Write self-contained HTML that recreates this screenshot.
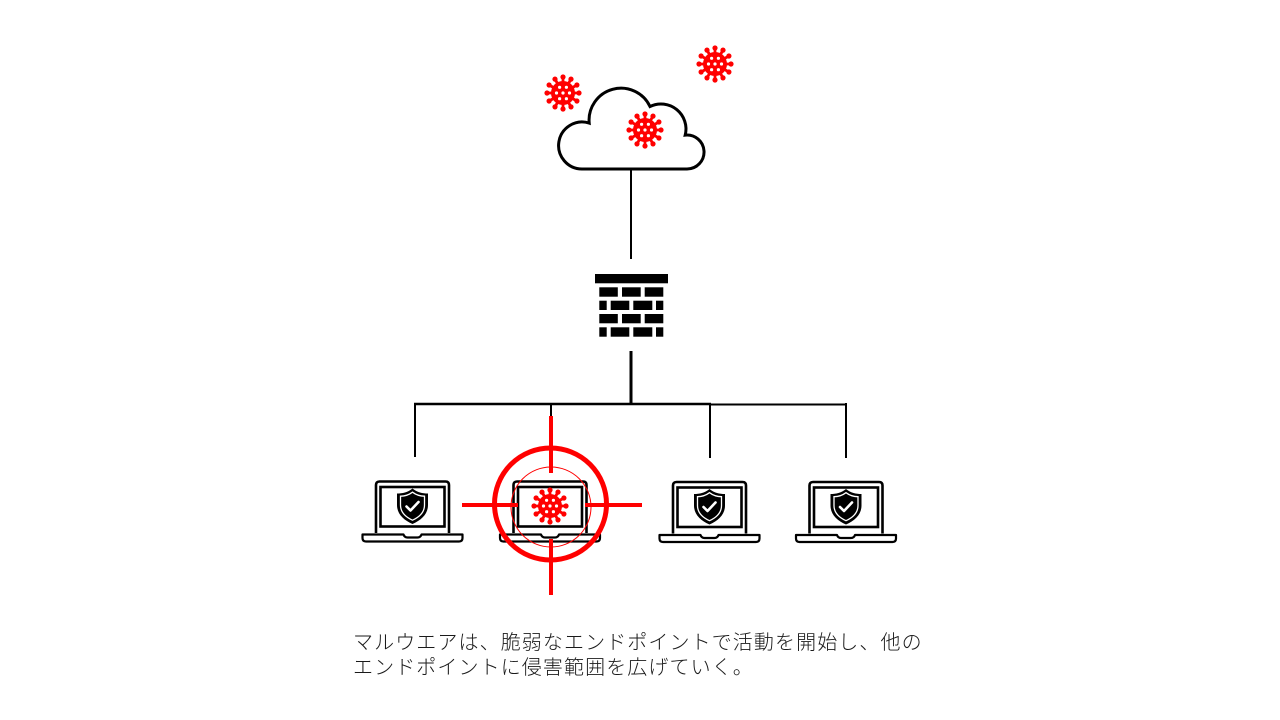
<!DOCTYPE html>
<html lang="ja">
<head>
<meta charset="utf-8">
<style>
  html,body{margin:0;padding:0;background:#fff;}
  #wrap{position:relative;width:1280px;height:720px;overflow:hidden;background:#fff;}
  svg{position:absolute;left:0;top:0;}
  .cap{position:absolute;left:353px;top:631px;font-family:"Liberation Sans","Noto Sans CJK JP",sans-serif;font-size:20px;font-weight:300;line-height:24.5px;letter-spacing:1.1px;color:#1a1a1a;white-space:nowrap;}
</style>
</head>
<body>
<div id="wrap">
<svg width="1280" height="720" viewBox="0 0 1280 720" xmlns="http://www.w3.org/2000/svg">
  <defs>
    <g id="virus">
      <g stroke="#ff0000" stroke-width="2.8" fill="#ff0000">
        <line x1="0" y1="0" x2="0" y2="-15"/>
        <line x1="0" y1="0" x2="7.5" y2="-13"/>
        <line x1="0" y1="0" x2="13" y2="-7.5"/>
        <line x1="0" y1="0" x2="15" y2="0"/>
        <line x1="0" y1="0" x2="13" y2="7.5"/>
        <line x1="0" y1="0" x2="7.5" y2="13"/>
        <line x1="0" y1="0" x2="0" y2="15"/>
        <line x1="0" y1="0" x2="-7.5" y2="13"/>
        <line x1="0" y1="0" x2="-13" y2="7.5"/>
        <line x1="0" y1="0" x2="-15" y2="0"/>
        <line x1="0" y1="0" x2="-13" y2="-7.5"/>
        <line x1="0" y1="0" x2="-7.5" y2="-13"/>
      </g>
      <g fill="#ff0000">
        <circle r="12"/>
        <circle cx="0" cy="-16" r="2.6"/>
        <circle cx="8" cy="-13.9" r="2.6"/>
        <circle cx="13.9" cy="-8" r="2.6"/>
        <circle cx="16" cy="0" r="2.6"/>
        <circle cx="13.9" cy="8" r="2.6"/>
        <circle cx="8" cy="13.9" r="2.6"/>
        <circle cx="0" cy="16" r="2.6"/>
        <circle cx="-8" cy="13.9" r="2.6"/>
        <circle cx="-13.9" cy="8" r="2.6"/>
        <circle cx="-16" cy="0" r="2.6"/>
        <circle cx="-13.9" cy="-8" r="2.6"/>
        <circle cx="-8" cy="-13.9" r="2.6"/>
      </g>
      <g fill="#fff">
        <circle cx="0" cy="0" r="1.6"/>
        <circle cx="-3.4" cy="-5.7" r="1.6"/>
        <circle cx="3.4" cy="-5.7" r="1.6"/>
        <circle cx="-6.5" cy="0" r="1.6"/>
        <circle cx="6.5" cy="0" r="1.6"/>
        <circle cx="-3.4" cy="5.7" r="1.6"/>
        <circle cx="3.4" cy="5.7" r="1.6"/>
      </g>
    </g>
    <g id="laptop">
      <path d="M -36.5,52.5 V 4.5 Q -36.5,1 -33,1 H 33 Q 36.5,1 36.5,4.5 V 52.5" fill="none" stroke="#000" stroke-width="2.6"/>
      <rect x="-32" y="6.5" width="64" height="39.5" fill="none" stroke="#000" stroke-width="2.6"/>
      <path d="M -50,54 H -9 Q -8,57 -5,57 H 5 Q 8,57 9,54 H 50 V 57.5 Q 50,61 46.5,61 H -46.5 Q -50,61 -50,57.5 Z" fill="none" stroke="#000" stroke-width="2.2" stroke-linejoin="round"/>
    </g>
    <g id="shield">
      <path d="M 0,-17.5 C 5,-13.5 10,-12.5 15.5,-12.5 V -1 C 15.5,8 9,14 0,18 C -9,14 -15.5,8 -15.5,-1 V -12.5 C -10,-12.5 -5,-13.5 0,-17.5 Z" fill="#000"/>
      <path d="M 0,-13.8 C 4,-10.8 8,-9.8 12,-9.8 V -1 C 12,6 7,11 0,14.2 C -7,11 -12,6 -12,-1 V -9.8 C -8,-9.8 -4,-10.8 0,-13.8 Z" fill="#000" stroke="#fff" stroke-width="1.3"/>
      <polyline points="-6,0.5 -2,4.5 6,-4" fill="none" stroke="#fff" stroke-width="2.6" stroke-linecap="round" stroke-linejoin="round"/>
    </g>
  </defs>

  <!-- cloud -->
  <path d="M 582,169 A 23.5 23.5 0 1 1 589.2,123.1 A 32 32 0 0 1 650,106.5 A 25 25 0 0 1 685.2,135.1 A 17 17 0 1 1 687,169 Z" fill="none" stroke="#000" stroke-width="3"/>

  <!-- cloud to firewall line -->
  <line x1="631" y1="170" x2="631" y2="259" stroke="#000" stroke-width="2"/>

  <!-- firewall -->
  <g fill="#000">
    <rect x="595" y="274" width="73" height="9.3"/>
    <rect x="599.3" y="287.3" width="18.5" height="9.4"/>
    <rect x="622" y="287.3" width="18.7" height="9.4"/>
    <rect x="644.7" y="287.3" width="18.6" height="9.4"/>
    <rect x="599.3" y="300.7" width="7.4" height="9.3"/>
    <rect x="610.7" y="300.7" width="18.6" height="9.3"/>
    <rect x="633.3" y="300.7" width="19" height="9.3"/>
    <rect x="656" y="300.7" width="7.3" height="9.3"/>
    <rect x="599.3" y="314" width="18.5" height="9.3"/>
    <rect x="622" y="314" width="18.7" height="9.3"/>
    <rect x="644.7" y="314" width="18.6" height="9.3"/>
    <rect x="599.3" y="327.3" width="7.4" height="9.4"/>
    <rect x="610.7" y="327.3" width="18.6" height="9.4"/>
    <rect x="633.3" y="327.3" width="19" height="9.4"/>
    <rect x="656" y="327.3" width="7.3" height="9.4"/>
  </g>

  <!-- network lines -->
  <line x1="631" y1="351" x2="631" y2="405" stroke="#000" stroke-width="3"/>
  <line x1="414" y1="404" x2="711" y2="404" stroke="#000" stroke-width="2.5"/>
  <line x1="709" y1="404.5" x2="847" y2="404.5" stroke="#000" stroke-width="2"/>
  <line x1="415" y1="403" x2="415" y2="457" stroke="#000" stroke-width="2"/>
  <line x1="551" y1="403" x2="551" y2="418" stroke="#000" stroke-width="2"/>
  <line x1="710" y1="403" x2="710" y2="458" stroke="#000" stroke-width="2"/>
  <line x1="846" y1="403" x2="846" y2="458" stroke="#000" stroke-width="2"/>

  <!-- laptops -->
  <g transform="translate(412.5,480.5)"><use href="#laptop"/><use href="#shield" transform="translate(0,25.5)"/></g>
  <g transform="translate(550,480.5)"><use href="#laptop"/></g>
  <g transform="translate(709.5,481)"><use href="#laptop"/><use href="#shield" transform="translate(0,25.5)"/></g>
  <g transform="translate(846,481)"><use href="#laptop"/><use href="#shield" transform="translate(0,25.5)"/></g>

  <!-- viruses -->
  <use href="#virus" transform="translate(563,93)"/>
  <use href="#virus" transform="translate(715,64)"/>
  <use href="#virus" transform="translate(645,130)"/>
  <use href="#virus" transform="translate(550,506)"/>

  <!-- crosshair -->
  <g stroke="#ff0000" fill="none">
    <circle cx="550.5" cy="504" r="56" stroke-width="5"/>
    <circle cx="551" cy="507" r="40" stroke-width="1"/>
    <line x1="551" y1="416" x2="551" y2="473" stroke-width="4"/>
    <line x1="551" y1="539" x2="551" y2="595" stroke-width="4"/>
    <line x1="462" y1="505" x2="518" y2="505" stroke-width="4"/>
    <line x1="585" y1="505" x2="642" y2="505" stroke-width="4"/>
  </g>
</svg>
<div class="cap">マルウエアは、脆弱なエンドポイントで活動を開始し、他の<br>エンドポイントに侵害範囲を広げていく。</div>
</div>
</body>
</html>
